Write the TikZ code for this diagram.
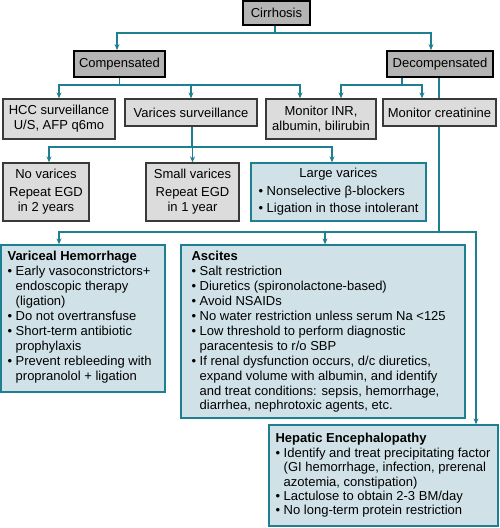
\documentclass[tikz,border=0pt]{standalone}
\usepackage{fontspec}
\setmainfont{Liberation Sans}
\usetikzlibrary{arrows.meta,backgrounds,calc}
\definecolor{teal1}{HTML}{1E7F90}
\definecolor{topgray}{HTML}{B4B4B4}
\definecolor{ltgray}{HTML}{DCDCDC}
\definecolor{ltblue}{HTML}{D0E2E8}
\definecolor{bdgray}{HTML}{3A3A3A}
\newcommand{\bul}{•\ }
\newcommand{\hng}{\phantom{•\ }}
\begin{document}
\begin{tikzpicture}[x=1pt,y=-1pt,
  every node/.style={font=\fontsize{13}{15}\selectfont, inner sep=0pt},
  topbox/.style={draw=black, line width=1.8pt, fill=topgray, align=center},
  graybox/.style={draw=bdgray, line width=1.3pt, fill=ltgray, align=center},
  bluebox/.style={draw=teal1, line width=1.3pt, fill=ltblue},
  listtext/.style={align=left, anchor=north west, font=\fontsize{13}{14.9}\selectfont},
  conn/.style={draw=teal1, line width=1.3pt},
  arr/.style={conn, -{Stealth[length=6pt,width=5pt]}},
]
\useasboundingbox (0,0) rectangle (500,528);

% top levels
\node[topbox, minimum width=67, minimum height=24] (cir) at (276.5,13) {Cirrhosis};
\node[topbox, minimum width=91, minimum height=26] (comp) at (119.5,64) {Compensated};
\node[topbox, minimum width=106, minimum height=26] (dec) at (440,64) {Decompensated};

% second row
\node[graybox, minimum width=112, minimum height=40] (hcc) at (59,119) {HCC surveillance\\U/S, AFP q6mo};
\node[graybox, minimum width=132, minimum height=27] (vs) at (191,112.5) {Varices surveillance};
\node[graybox, minimum width=110, minimum height=40] (inr) at (321,119) {Monitor INR,\\albumin, bilirubin};
\node[graybox, minimum width=113, minimum height=27] (cre) at (439.5,112.5) {Monitor creatinine};

% third row
\node[graybox, minimum width=86, minimum height=58] (nov) at (46,192) {No varices\\[3pt]Repeat EGD\\in 2 years};
\node[graybox, minimum width=93, minimum height=58] (sma) at (192.5,192) {Small varices\\[3pt]Repeat EGD\\in 1 year};
\node[bluebox, minimum width=175, minimum height=58] (lar) at (338.5,192) {\begin{tabular}{@{}l@{}}\multicolumn{1}{@{}c@{}}{Large varices}\\[3pt]\bul Nonselective β-blockers\\[2pt]\bul Ligation in those intolerant\end{tabular}};

% complications
\node[bluebox, minimum width=164, minimum height=147] (vh) at (83,318.5) {};
\node[listtext] (vht) at ([shift={(7,7)}]vh.north west) {\textbf{Variceal Hemorrhage}\\
\bul Early vasoconstrictors+\\
\hng endoscopic therapy\\
\hng (ligation)\\
\bul Do not overtransfuse\\
\bul Short-term antibiotic\\
\hng prophylaxis\\
\bul Prevent rebleeding with\\
\hng propranolol + ligation};

\node[bluebox, minimum width=284, minimum height=173] (asc) at (323,331.5) {};
\node[listtext] (asct) at ([shift={(11,7)}]asc.north west) {\textbf{Ascites}\\
\bul Salt restriction\\
\bul Diuretics (spironolactone-based)\\
\bul Avoid NSAIDs\\
\bul No water restriction unless serum Na <125\\
\bul Low threshold to perform diagnostic\\
\hng paracentesis to r/o SBP\\
\bul If renal dysfunction occurs, d/c diuretics,\\
\hng expand volume with albumin, and identify\\
\hng and treat conditions: sepsis, hemorrhage,\\
\hng diarrhea, nephrotoxic agents, etc.};

\node[bluebox, minimum width=229, minimum height=101] (he) at (383.5,475.5) {};
\node[listtext, font=\fontsize{13}{14.4}\selectfont] (het) at ([shift={(7,9)}]he.north west) {\textbf{Hepatic Encephalopathy}\\
\bul Identify and treat precipitating factor\\
\hng (GI hemorrhage, infection, prerenal\\
\hng azotemia, constipation)\\
\bul Lactulose to obtain 2-3 BM/day\\
\bul No long-term protein restriction};

% connectors
\begin{scope}[on background layer]
\coordinate (j1) at (275,33);
\draw[conn] ([xshift=-1.5pt]cir.south) -- (j1);
\draw[arr] (j1) -| ([xshift=-2.5pt]comp.north);
\draw[arr] (j1) -| ([xshift=-9pt]dec.north);

\coordinate (j2) at (119.5,85);
\draw[conn] (comp.south) -- (j2);
\draw[arr] (j2) -| (hcc.north);
\draw[arr] (j2) -| (vs.north);
\draw[arr] (j2) -| ([xshift=-21pt]inr.north);

\coordinate (j3) at (402,85);
\draw[conn] ([xshift=-38pt]dec.south) -- (j3);
\draw[arr] (j3) -| ([xshift=20pt]inr.north);
\draw[arr] (j3) -| ([xshift=-17.5pt]cre.north);

\coordinate (j4) at (192,147);
\draw[conn] ([xshift=1pt]vs.south) -- (j4);
\draw[arr] (j4) -| ([xshift=3pt]nov.north);
\draw[arr] (j4) -| (sma.north);
\draw[arr] (j4) -| ([xshift=-6.5pt]lar.north);

\coordinate (j5) at (439,232);
\draw[conn] ([xshift=-1pt]dec.south) -- (j5);
\draw[arr] (j5) -| ([xshift=-24pt]vh.north);
\draw[arr] (j5) -| ([xshift=2pt]asc.north);
\draw[arr] (j5) -| ([xshift=92.5pt]he.north);
\end{scope}
\end{tikzpicture}
\end{document}
